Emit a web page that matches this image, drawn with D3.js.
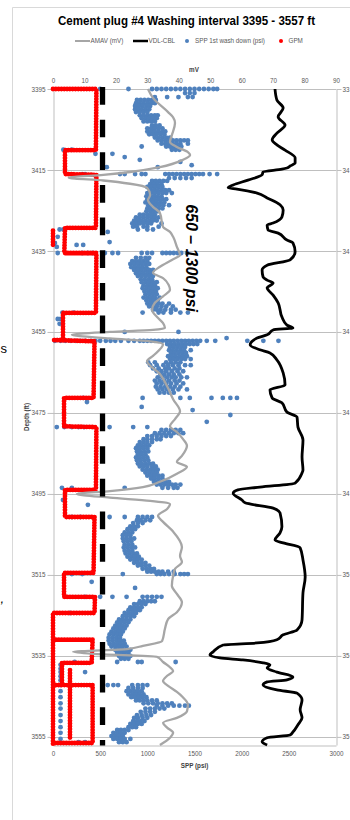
<!DOCTYPE html>
<html><head><meta charset="utf-8">
<script src="https://cdn.jsdelivr.net/npm/d3@7"></script>
<style>body{margin:0;background:#fff;} svg{display:block;}</style>
</head><body>
<svg id="c" width="350" height="820"></svg>
<script>
const title = "Cement plug #4 Washing interval 3395 - 3557 ft";
const depthTicks = [3395,3415,3435,3455,3475,3495,3515,3535,3555];
const rightTickLabels = ["33","34","34","34","34","34","35","35","35"];
const psiTicks = [0,500,1000,1500,2000,2500,3000];
const mvTicks = [0,10,20,30,40,50,60,70,80,90];
const legendNames = ["AMAV (mV)","VDL-CBL","SPP 1st wash down (psi)","GPM"];
const rangeNote = "650 \u2013 1300 psi";
const washMarkPsi = 525;

// AMAV (mV): [depth ft, mV]
const amav = [
[3395.0,30.2],[3397.2,31.8],[3400.7,36.6],[3402.0,38.2],[3403.4,38.8],[3406.4,37.8],[3408.1,37.2],[3409.3,39.4],[3410.6,42.9],[3411.3,43.6],[3412.5,41.3],[3414.3,34.0],[3415.5,24.5],[3416.2,16.0],[3416.9,5.0],[3417.6,16.0],[3418.4,24.5],[3419.4,29.9],[3421.2,30.9],[3422.4,30.2],[3424.1,31.8],[3425.6,34.0],[3429.1,35.0],[3430.3,37.2],[3431.5,38.2],[3434.0,39.4],[3436.0,40.4],[3437.2,37.8],[3438.9,34.0],[3440.4,31.8],[3441.7,35.0],[3443.4,36.8],[3444.6,37.2],[3446.2,35.0],[3447.8,32.4],[3449.6,31.5],[3451.3,33.1],[3452.8,35.0],[3454.0,35.6],[3454.5,31.8],[3455.0,18.1],[3455.7,6.0],[3456.6,18.1],[3457.3,30.9],[3458.0,35.0],[3460.9,31.8],[3462.2,29.9],[3465.4,34.0],[3468.4,36.3],[3471.6,38.2],[3474.6,40.4],[3476.5,38.8],[3478.3,37.2],[3479.7,39.4],[3481.4,41.3],[3483.1,42.6],[3485.6,41.0],[3487.1,39.4],[3488.3,42.6],[3490.0,39.4],[3492.0,34.0],[3493.3,28.6],[3494.3,18.1],[3495.0,7.6],[3495.9,18.1],[3496.7,30.9],[3497.5,37.2],[3498.7,36.3],[3500.4,33.4],[3501.9,35.0],[3504.3,38.2],[3508.1,41.0],[3510.3,40.4],[3511.8,41.0],[3513.5,38.8],[3515.2,38.2],[3517.7,37.8],[3519.7,39.4],[3521.7,41.0],[3524.2,39.4],[3525.9,36.6],[3528.3,35.6],[3531.3,34.7],[3532.5,28.6],[3533.3,23.5],[3534.0,6.4],[3534.5,12.7],[3535.2,33.0],[3536.5,35.0],[3537.8,37.2],[3538.7,38.2],[3539.9,36.3],[3541.2,35.0],[3542.4,36.6],[3543.9,39.4],[3545.2,41.3],[3547.0,42.9],[3548.7,42.6],[3550.3,39.4],[3551.5,35.0],[3552.7,36.3],[3554.0,38.2],[3555.2,37.2],[3557.0,34.0]
];

// VDL-CBL: [depth ft, mV-axis value]
const vdlCbl = [
[3395.0,70.6],[3397.7,71.2],[3399.7,73.2],[3401.9,71.6],[3403.9,73.8],[3405.9,71.2],[3407.6,69.7],[3408.8,71.2],[3410.1,73.8],[3412.0,77.0],[3413.3,77.0],[3414.0,75.4],[3414.5,74.4],[3414.8,72.8],[3415.5,66.8],[3416.2,66.5],[3417.5,62.0],[3418.7,57.3],[3419.4,55.7],[3419.7,58.5],[3420.7,64.9],[3421.9,68.1],[3423.6,72.2],[3424.9,73.2],[3426.6,72.8],[3428.1,70.0],[3428.6,68.1],[3429.8,68.4],[3430.6,71.6],[3432.3,74.4],[3433.0,76.3],[3435.2,77.0],[3437.2,75.4],[3438.5,68.1],[3439.7,66.5],[3441.4,66.8],[3442.2,68.1],[3442.9,70.0],[3444.1,68.1],[3445.9,70.0],[3447.8,71.6],[3451.3,72.8],[3453.3,74.4],[3454.0,76.3],[3454.5,70.0],[3455.7,68.1],[3456.5,64.9],[3458.2,62.7],[3459.4,65.8],[3460.2,69.0],[3461.9,71.2],[3465.1,73.2],[3468.1,73.8],[3469.3,69.0],[3471.3,69.7],[3472.5,72.8],[3474.8,74.4],[3476.0,77.6],[3478.5,77.9],[3481.7,79.5],[3485.9,79.2],[3489.1,79.5],[3489.8,79.2],[3492.3,77.0],[3493.3,65.8],[3494.0,58.8],[3494.8,57.3],[3496.5,60.1],[3497.2,61.1],[3498.5,70.0],[3499.7,72.2],[3503.1,72.8],[3504.6,72.2],[3506.4,70.6],[3507.1,73.2],[3508.3,78.6],[3511.3,79.5],[3515.5,80.2],[3519.4,79.5],[3526.1,79.2],[3528.6,77.6],[3529.8,73.2],[3531.0,71.2],[3531.8,64.9],[3532.3,54.1],[3534.0,50.9],[3534.8,49.9],[3535.5,53.1],[3536.0,60.4],[3536.7,66.8],[3537.2,69.0],[3538.0,68.1],[3539.0,71.2],[3540.2,76.3],[3540.9,74.4],[3541.4,68.1],[3542.2,66.8],[3543.4,71.2],[3544.2,77.6],[3545.9,79.2],[3548.3,78.6],[3550.3,79.2],[3552.0,77.9],[3553.8,76.3],[3554.5,75.4],[3555.2,68.1],[3556.2,66.5],[3557.0,68.1]
];

// SPP 1st wash down (psi): [depth ft, [psi readings at that depth]]
const sppRows = [
[3395.0,[500,800,1050,1100,1150,1200,1250,1300,1350,1400,1450,1500,1550,1600,1650,1700,1740]],
[3396.0,[1400,1450,1500]],
[3397.0,[1080,1210,1330,1430,1480]],
[3397.7,[890,930,970,1010,1050,1090]],
[3398.5,[880,920,960,1000,1040,1080]],
[3399.2,[870,910,950,990,1030]],
[3400.0,[870,900,940,980,1020]],
[3400.7,[880,920,960,1000]],
[3401.5,[920,960,1000,1040,1080,1110]],
[3402.2,[940,980,1020,1060,1100]],
[3403.0,[960,1000,1040,1080]],
[3404.0,[1050,1090,1130]],
[3404.7,[1000,1040,1080,1120,1160]],
[3405.5,[1000,1040,1080,1120,1160,1190]],
[3406.2,[1020,1060,1100,1140,1180]],
[3407.0,[1080,1120,1160,1200,1240]],
[3407.7,[1110,1150,1190,1230,1270,1310,1350,1390,1430]],
[3408.5,[1150,1190,1230,1270,1310,1350,1430]],
[3409.2,[940,1200,1240,1280,1320,1360]],
[3410.0,[110,200,1260,1300,1340]],
[3411.0,[450,630]],
[3411.8,[760]],
[3412.5,[920]],
[3413.0,[1350]],
[3413.8,[1470]],
[3414.3,[570,1110]],
[3416.0,[310,340,710,760,870,940,980,1190,1230,1270,1310,1350,1390,1430,1470,1510,1550,1590,1660,1740]],
[3417.0,[1230,1290,1350,1410,1470]],
[3417.7,[1050,1090,1130,1170,1210]],
[3418.5,[1030,1070,1110,1150]],
[3419.2,[1000,1040,1080,1120,1160]],
[3420.0,[1030,1070,1110,1150,1190,1230]],
[3420.7,[1000,1040,1080,1120,1160,1200,1260]],
[3421.5,[990,1030,1070,1110,1150]],
[3422.2,[1000,1040,1080,1120,1160,1200]],
[3423.0,[980,1020,1060,1100,1140,1180]],
[3423.7,[1010,1050,1090,1130,1170,1230]],
[3424.5,[1000,1040,1080,1120,1160]],
[3425.2,[990,1030,1070,1110]],
[3426.0,[920,960,1000,1040,1080]],
[3426.7,[880,920,960,1000,1040,1080,1120]],
[3427.5,[860,900,940,980,1020,1060,1100]],
[3428.2,[840,880,920,960,1000,1040,1150]],
[3429.0,[850,890,960,1000,1120]],
[3429.7,[70,110,900,1000,1060]],
[3430.3,[580]],
[3431.5,[50]],
[3432.8,[600]],
[3433.0,[20]],
[3433.5,[250,320]],
[3434.0,[40]],
[3435.5,[50,310,370,420,550,630,690,940,1000,1050,1160,1200,1240,1280,1320,1360,1420]],
[3436.7,[880,930,980,1020]],
[3437.5,[840,880,920,960,1000]],
[3438.2,[820,860,900,940,980,1020]],
[3439.0,[830,870,910,950,990]],
[3439.7,[860,900,940,980,1020,1060]],
[3440.5,[880,920,960,1000,1040]],
[3441.2,[900,940,980,1020,1060]],
[3442.0,[930,970,1010,1050]],
[3442.7,[940,980,1020,1060,1100]],
[3443.5,[960,1000,1040,1080]],
[3444.2,[950,990,1030,1070,1110]],
[3445.0,[970,1010,1050,1090]],
[3445.7,[980,1020,1060,1100]],
[3446.5,[960,1000,1040,1080,1130]],
[3447.2,[990,1030,1070,1110]],
[3448.0,[1000,1040,1080,1120,1160,1230]],
[3448.7,[1020,1060,1100,1150,1200,1270]],
[3449.5,[1060,1100,1140,1190,1250,1300]],
[3450.2,[100,220,950,1120,1170,1250,1350,1430]],
[3451.8,[50,80]],
[3453.0,[70]],
[3455.0,[760,1330]],
[3456.5,[1840]],
[3457.2,[20,80,130,190,240,290,340,400,450,500,560,610,660,720,800,860,920,960,1000,1040,1080,1120,1160,1200,1240,1280,1320,1360,1400,1440,1480,1520,1560,1630,1720,2060,2230,2390]],
[3458.0,[1210,1250,1290,1330,1370,1410,1450,1490,1530]],
[3458.7,[1240,1280,1320,1360,1400]],
[3459.5,[1230,1270,1310,1350,1390,1460]],
[3460.2,[1250,1290,1330,1370,1410]],
[3461.0,[1220,1260,1300,1340,1380,1420]],
[3461.7,[1240,1280,1320,1360,1400,1460]],
[3462.5,[1010,1080,1200,1250,1300,1350]],
[3463.2,[1030,1100,1170,1220,1270,1330,1400,1460]],
[3464.0,[1060,1120,1190,1230,1290,1340]],
[3464.7,[1100,1150,1200,1260,1320,1380]],
[3465.5,[1140,1180,1230,1280,1340]],
[3466.2,[1110,1160,1210,1260,1300,1360,1420]],
[3467.0,[1080,1130,1180,1230,1290,1340]],
[3467.7,[1100,1150,1200,1250,1310,1380]],
[3468.5,[1090,1140,1190,1240,1290,1350]],
[3469.2,[1110,1160,1210,1270,1330,1420]],
[3470.0,[1130,1180,1230,1280]],
[3471.3,[320,950,1350,1450,1680,1800,1880,1950]],
[3472.3,[360]],
[3473.5,[940]],
[3474.3,[1480]],
[3475.5,[1880]],
[3477.2,[1630]],
[3478.5,[40,120,200,270,330,600,850,1000]],
[3479.2,[1150,1200,1250,1300,1350]],
[3480.0,[1080,1130,1180,1230,1280,1330,1380]],
[3480.7,[1000,1050,1100,1150,1200,1250]],
[3481.5,[960,1000,1050,1100,1140]],
[3482.2,[920,960,1000,1050]],
[3483.0,[900,940,980,1020]],
[3483.7,[880,920,960,1000]],
[3484.5,[890,930,970,1010]],
[3485.2,[900,940,980]],
[3486.0,[880,920,960,1000]],
[3486.7,[890,930,970,1010]],
[3487.5,[900,940,980,1020,1060]],
[3488.2,[920,960,1000,1050,1090]],
[3489.0,[950,990,1030,1070,1110]],
[3489.7,[980,1020,1060,1100]],
[3490.5,[1000,1040,1080,1120,1160]],
[3491.2,[1040,1080,1120,1160]],
[3492.0,[1070,1110,1150,1190,1230]],
[3492.7,[1100,1140,1180,1220,1260,1300,1350]],
[3493.5,[95,200,760,1160,1220,1280,1320]],
[3496.5,[106]],
[3497.7,[370]],
[3500.7,[200,290,600,760,900,950,1000,1050]],
[3501.5,[890,930,980,1030]],
[3502.2,[850,900,950]],
[3503.0,[820,860,900]],
[3503.7,[790,830,870]],
[3504.5,[760,800,840]],
[3505.2,[740,780,820]],
[3506.0,[740,780,820,860]],
[3506.7,[750,790,830]],
[3507.5,[760,800,840]],
[3508.2,[750,790,830,870]],
[3509.0,[760,800,840]],
[3509.7,[770,810,850,890]],
[3510.5,[790,830,870,910]],
[3511.2,[820,860,900,940]],
[3512.0,[860,900,940,980]],
[3512.7,[900,940,980,1020]],
[3513.5,[950,990,1030,1070]],
[3514.2,[1000,1040,1080,1120,1160,1220,1280]],
[3514.8,[200,310,740,1100,1140,1180,1230,1290,1350,1390,1430]],
[3516.7,[410]],
[3518.2,[870]],
[3520.4,[340,500,630,780,950,1000,1050,1100,1150]],
[3521.5,[920,960,1000,1040,1080]],
[3522.2,[860,900,940,980]],
[3523.0,[820,860,900,940]],
[3523.7,[800,840,880,920]],
[3524.4,[180,760,800,840,880]],
[3525.2,[740,780,820,860]],
[3526.0,[700,740,780,820]],
[3526.7,[680,720,760,800]],
[3527.5,[660,700,740,780]],
[3528.2,[640,680,720,760]],
[3529.0,[620,660,700,740]],
[3529.7,[600,640,680,720]],
[3530.5,[590,630,670,710]],
[3531.2,[590,630,670,710,750]],
[3532.0,[600,640,680,720,760]],
[3532.7,[620,660,700,740,780]],
[3533.5,[660,700,740,780,820]],
[3534.2,[680,720,760,800]],
[3535.0,[700,740,780,820]],
[3535.7,[720,760,800]],
[3536.5,[230,680,900,940,1300]],
[3537.2,[80]],[3538.2,[80]],[3539.0,[80,340]],[3540.0,[80]],[3541.0,[80]],
[3542.2,[80,580,640,690,840,900,950,1000]],
[3542.9,[800,850,900,950]],
[3543.7,[80,780,820,860,900,940]],
[3544.5,[800,840,880,920,960]],
[3545.2,[80,830,870,910,950,990]],
[3546.0,[880,920,960,1000,1050,1100]],
[3546.7,[80,960,1010,1060,1110,1160,1210,1260]],
[3547.3,[1100,1160,1220,1280,1340,1400,1440]],
[3548.0,[80,980,1030,1080,1130,1180]],
[3548.8,[930,980,1030,1080]],
[3549.6,[80,890,940,990,1040]],
[3550.3,[860,900,950,1000]],
[3551.1,[80,850,890,930,970]],
[3551.8,[820,860,900,940]],
[3552.6,[80,800,840,880]],
[3553.3,[680,720,760,800]],
[3554.0,[80,640,680,720,760]],
[3554.8,[620,660,700,740]],
[3555.5,[80,640,680,720,760,820]],
[3556.3,[270,340,700,740,780]]
];

// GPM trace: [depth ft, value on SPP axis]; null = break
const gpm = [
[3395,0],[3395,460],[3410.1,455],[3410.1,127],[3416.0,127],[3416.2,460],[3429.3,455],[3429.3,127],[3435.5,120],[3435.5,460],[3450.3,455],[3450.3,106],[3457.0,106],[3457.0,0],[3457.3,440],[3471.3,430],[3471.3,117],[3478.3,117],[3478.5,460],[3494.0,455],[3494.0,127],[3500.7,127],[3500.7,440],[3514.5,430],[3514.5,117],[3520.4,117],[3520.4,445],[3524.4,440],[3524.4,0],[3531.0,0],[3531.0,420],[3536.7,410],[3536.7,95],[3542.2,95],[3542.2,0],[3542.2,420],[3556.5,420],[3556.5,0],
null,
[3531,0],[3557,0],
null,
[3538.5,180],[3555.7,180],
null,
[3430.0,0],[3434.0,0]
];

const FONT = "'Liberation Sans', Arial, sans-serif";
const svg = d3.select("#c");
svg.append("rect").attr("width",350).attr("height",820).attr("fill","#fff");

// outer frame
svg.append("path").attr("d","M12.5,820 V7.5 H350").attr("fill","none").attr("stroke","#d9d9d9").attr("stroke-width",1);

const x = d3.scaleLinear().domain([0,3000]).range([53,336]);
const xMv = d3.scaleLinear().domain([0,90]).range([53,336]);
const y = d3.scaleLinear().domain([3395,3557]).range([89,745]);

// title
svg.append("text").attr("x",186.5).attr("y",25).attr("text-anchor","middle")
  .attr("font-family",FONT).attr("font-weight","bold").attr("font-size",13)
  .attr("textLength",257).attr("lengthAdjust","spacingAndGlyphs").attr("fill","#000").text(title);

// legend
const lg = svg.append("g").attr("font-family",FONT).attr("font-size",6.3).attr("fill","#595959");
lg.append("line").attr("x1",75).attr("x2",90).attr("y1",41).attr("y2",41).attr("stroke","#a6a6a6").attr("stroke-width",2);
lg.append("text").attr("x",90.5).attr("y",43.2).text(legendNames[0]);
lg.append("line").attr("x1",133).attr("x2",148).attr("y1",41).attr("y2",41).attr("stroke","#000").attr("stroke-width",2.5);
lg.append("text").attr("x",148.5).attr("y",43.2).text(legendNames[1]);
lg.append("circle").attr("cx",187).attr("cy",41).attr("r",2).attr("fill","#4f81bd");
lg.append("text").attr("x",195).attr("y",43.2).text(legendNames[2]);
lg.append("circle").attr("cx",281).attr("cy",41).attr("r",2).attr("fill","#ff0000");
lg.append("text").attr("x",288.5).attr("y",43.2).text(legendNames[3]);

// gridlines
svg.append("g").selectAll("line").data(depthTicks).join("line")
  .attr("x1",53).attr("x2",336).attr("y1",d=>Math.round(y(d))+0.5).attr("y2",d=>Math.round(y(d))+0.5)
  .attr("stroke","#bfbfbf").attr("stroke-width",1);

function styleAxis(g){
  g.selectAll("path.domain").attr("stroke","#bfbfbf");
  g.selectAll(".tick line").attr("stroke","#bfbfbf");
  g.selectAll("text").attr("font-family",FONT).attr("font-size",6.3).attr("fill","#595959");
}
// left axis
svg.append("g").attr("transform","translate(53.5,0)")
  .call(d3.axisLeft(y).tickValues(depthTicks).tickSize(6).tickSizeOuter(0).tickPadding(2).tickFormat(d3.format("d")))
  .call(styleAxis);
// right axis (labels cut at page edge)
svg.append("g").attr("transform","translate(336.5,0)")
  .call(d3.axisRight(y).tickValues(depthTicks).tickSize(5).tickSizeOuter(0).tickPadding(1).tickFormat((d,i)=>rightTickLabels[i]))
  .call(styleAxis);
// top axis (mV)
svg.append("g").attr("transform","translate(0,89)")
  .call(d3.axisTop(xMv).tickValues(mvTicks).tickSize(0).tickPadding(6.5).tickFormat(d3.format("d")))
  .call(styleAxis).call(g=>g.select(".domain").remove());
// bottom axis (psi)
svg.append("g").attr("transform","translate(0,745.5)")
  .call(d3.axisBottom(x).tickValues(psiTicks).tickSize(0).tickSizeOuter(0).tickPadding(6).tickFormat(d3.format("d")))
  .call(styleAxis);

// axis titles
svg.append("text").attr("x",194).attr("y",71.5).attr("text-anchor","middle").attr("font-family",FONT)
  .attr("font-weight","bold").attr("font-size",6.3).attr("fill","#404040").text("mV");
svg.append("text").attr("x",194.5).attr("y",767.5).attr("text-anchor","middle").attr("font-family",FONT)
  .attr("font-weight","bold").attr("font-size",6.3).attr("fill","#404040").text("SPP (psi)");
svg.append("text").attr("transform","translate(29,417) rotate(-90)").attr("text-anchor","middle").attr("font-family",FONT)
  .attr("font-weight","bold").attr("font-size",6.3).attr("fill","#404040").text("Depth (ft)");

// SPP scatter
const sppPts = sppRows.flatMap(([d,vals])=>vals.map(v=>[d,v]));
svg.append("g").selectAll("circle").data(sppPts).join("circle")
  .attr("cx",d=>x(d[1])).attr("cy",d=>y(d[0])).attr("r",2.4).attr("fill","#4f81bd");

// GPM trace (dense dotted markers)
const gpmLine = d3.line().defined(d=>d!==null).x(d=>x(d[1])).y(d=>y(d[0]));
svg.append("path").attr("d",gpmLine(gpm)).attr("fill","none").attr("stroke","#ff0000")
  .attr("stroke-width",4.8).attr("stroke-linecap","round").attr("stroke-dasharray","0.01 2.8");

// AMAV line
const mvLine = d3.line().x(d=>xMv(d[1])).y(d=>y(d[0])).curve(d3.curveMonotoneY);
svg.append("path").attr("d",mvLine(amav)).attr("fill","none").attr("stroke","#a6a6a6").attr("stroke-width",2.3);
// VDL-CBL line
svg.append("path").attr("d",mvLine(vdlCbl)).attr("fill","none").attr("stroke","#000").attr("stroke-width",2.8).attr("stroke-linejoin","round");

// dashed marker line
svg.append("line").attr("x1",x(washMarkPsi)).attr("x2",x(washMarkPsi)).attr("y1",87).attr("y2",745.5)
  .attr("stroke","#000").attr("stroke-width",5.3).attr("stroke-dasharray","17.7 14.95");

// rotated annotation
svg.append("text").attr("transform","translate(186,258) rotate(90)").attr("text-anchor","middle")
  .attr("font-family",FONT).attr("font-weight","bold").attr("font-style","italic").attr("font-size",16)
  .attr("fill","#000").text(rangeNote);

// stray characters of surrounding document at the left edge
svg.append("text").attr("x",0.5).attr("y",353).attr("font-family",FONT).attr("font-size",13).attr("fill","#000").text("s");
svg.append("text").attr("x",0.5).attr("y",603).attr("font-family",FONT).attr("font-size",13).attr("font-style","italic").attr("fill","#000").text(",");
</script>
</body></html>
